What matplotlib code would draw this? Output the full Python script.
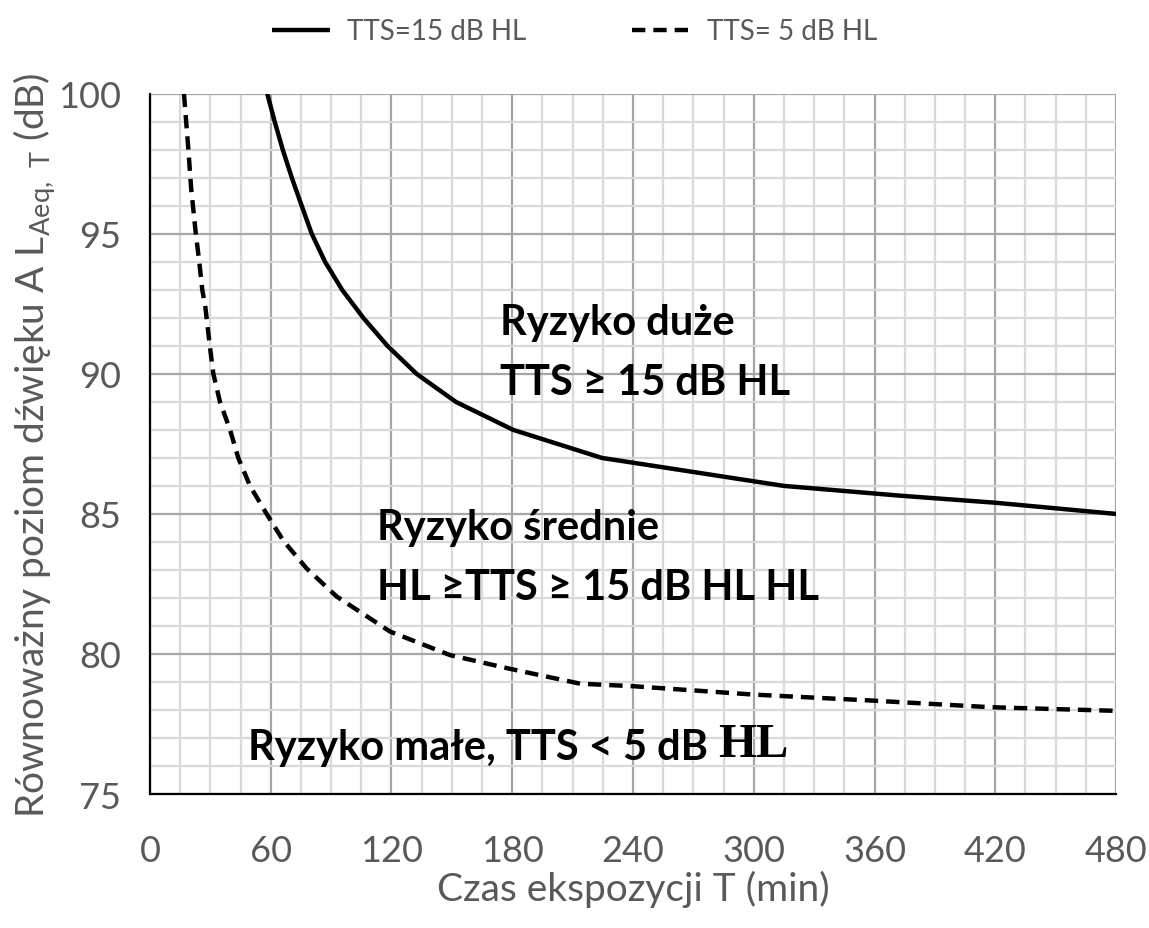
import matplotlib
matplotlib.use("Agg")
import matplotlib.pyplot as plt
from matplotlib.ticker import MultipleLocator

plt.rcParams['font.family'] = ['Lato', 'DejaVu Sans']
plt.rcParams['mathtext.fontset'] = 'custom'
plt.rcParams['mathtext.rm'] = 'Lato'

# TTS = 15 dB HL
t_15 = [58.3, 62, 66, 70.5, 75.4, 80.4, 87, 95.5, 106, 118, 132.5, 152, 180.5, 224.5, 315, 373, 420, 480]
l_15 = [100, 99, 98, 97, 96, 95, 94, 93, 92, 91, 90, 89, 88, 87, 86, 85.65, 85.4, 85]

# TTS = 5 dB HL
t_5 = [16.9, 19.1, 20.5, 22.8, 24.5, 26, 27.5, 29.8, 31.5, 34.8, 39.8, 43.9, 49.7, 58,
       66.3, 77.9, 92.8, 119.3, 149.1, 178.9, 213.7, 240, 300, 358, 417.5, 480]
l_5 = [100, 98, 96.6, 95, 94, 93, 92.4, 90.97, 90, 89, 88, 87, 86, 85,
       84.04, 83.05, 82.05, 80.8, 79.96, 79.47, 78.94, 78.85, 78.55, 78.34, 78.1, 77.97]

x_ticks = [0, 60, 120, 180, 240, 300, 360, 420, 480]
y_ticks = [75, 80, 85, 90, 95, 100]

grey = '#595959'

fig = plt.figure(figsize=(11.49, 9.29), dpi=100)
ax = fig.add_axes([0.1305, 0.1442, 0.8408, 0.7538])

ax.plot(t_15, l_15, color='black', lw=3.2, solid_capstyle='butt', label='TTS=15 dB HL', zorder=3)
ax.plot(t_5, l_5, color='black', lw=3.2, dashes=(3.0, 1.8), label='TTS= 5 dB HL', zorder=3)

ax.set_xlim(0, 480)
ax.set_ylim(75, 100)
ax.set_xticks(x_ticks)
ax.set_yticks(y_ticks)
ax.xaxis.set_minor_locator(MultipleLocator(15))
ax.yaxis.set_minor_locator(MultipleLocator(1))
ax.grid(which='major', color='#a6a6a6', lw=1.6, zorder=1)
ax.grid(which='minor', color='#d9d9d9', lw=1.6, zorder=0)
ax.set_axisbelow(True)
ax.tick_params(which='both', length=0, labelsize=26, labelcolor=grey)
ax.tick_params(axis='x', pad=29)
ax.tick_params(axis='y', pad=21)

for s in ['top', 'right']:
    ax.spines[s].set_visible(False)
for s in ['left', 'bottom']:
    ax.spines[s].set_color('black')
    ax.spines[s].set_linewidth(1.6)

ax.set_xlabel('Czas ekspozycji T (min)', fontsize=28, color=grey, labelpad=2)
ax.set_ylabel(r'Równoważny poziom dźwięku A L$_{\mathrm{Aeq,\ T}}$ (dB)', fontsize=28, color=grey, labelpad=0)

bold = dict(fontsize=30, fontweight='bold', color='black', va='center', ha='left')
ax.text(174, 91.85, 'Ryzyko duże', **bold)
ax.text(174, 89.7, 'TTS ≥ 15 dB HL', **bold)
ax.text(112.8, 84.55, 'Ryzyko średnie', **bold)
ax.text(112.8, 82.4, 'HL ≥TTS ≥ 15 dB HL HL', **bold)
t = ax.text(48.7, 76.67, 'Ryzyko małe, TTS < 5 dB ', **bold)
ax.annotate('HL', xy=(1, 0), xycoords=t, va='bottom', ha='left',
            fontsize=35, fontweight='bold', family=['Liberation Serif', 'DejaVu Serif'])

fig.legend(loc='upper center', bbox_to_anchor=(0.5, 1.006), ncol=2, frameon=False,
           fontsize=20, labelcolor=grey, handlelength=2.1, columnspacing=3.8, handletextpad=0.6)

fig.savefig('out.png', dpi=100)
